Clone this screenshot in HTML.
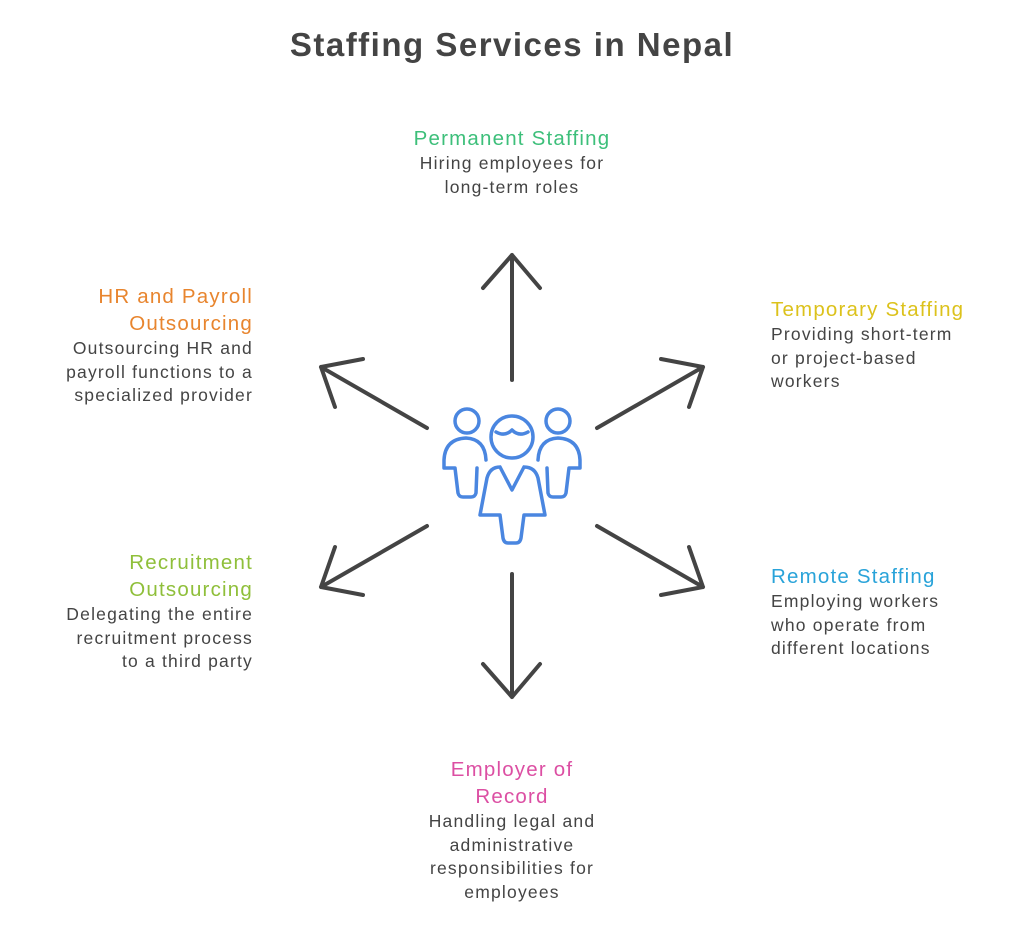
<!DOCTYPE html>
<html><head><meta charset="utf-8"><style>
body{margin:0;width:1024px;height:935px;background:#fff;font-family:"Liberation Sans",Arial,sans-serif;position:relative;overflow:hidden}
.t{position:absolute;top:26px;left:0;width:1024px;text-align:center;font-size:33px;font-weight:bold;color:#444;letter-spacing:1.5px}
.b{position:absolute;color:#444;font-size:17.5px;line-height:23.5px;letter-spacing:1.2px;white-space:nowrap}
.b h{display:block;font-size:20.5px;line-height:27px;letter-spacing:1.2px}
.r{text-align:right}.c{text-align:center}
</style></head><body>
<div class="t">Staffing Services in Nepal</div>
<svg width="1024" height="935" style="position:absolute;left:0;top:0">
<g stroke="#444" stroke-width="4" fill="none" stroke-linecap="round" stroke-linejoin="round">
<path d="M512 380V255M483 288L512 255L540 288"/>
<path d="M512 574V697M483 664L512 697L540 664"/>
<path d="M427 428L321 367M363 359L321 367L335 407"/>
<path d="M597 428L703 367M661 359L703 367L689 407"/>
<path d="M427 526L321 587M335 547L321 587L363 595"/>
<path d="M597 526L703 587M689 547L703 587L661 595"/>
</g>
<g stroke="#4a86e0" stroke-width="3.5" fill="none" stroke-linejoin="round" stroke-linecap="round">
<circle cx="467" cy="421" r="12"/>
<circle cx="558" cy="421" r="12"/>
<circle cx="512" cy="437" r="21"/>
<path d="M496 432Q505 437 512 430Q519 437 528 432"/>
<path d="M486 460Q485 439 466 438Q445 439 444 460V468H455L458 493Q459 497 463 497H471Q475 497 476 493L477 468"/>
<path d="M538 460Q539 439 558 438Q579 439 580 460V468H569L566 493Q565 497 561 497H553Q549 497 548 493L547 468"/>
<path d="M500 467L512 490L524 467M500 467Q490 467 487 478L480 515H500L503 538Q504 543 508 543H516Q520 543 521 538L524 515H545L538 478Q535 467 524 467"/>
</g>
</svg>
<div class="b c" style="left:362px;width:300px;top:125px"><h style="color:#3dbf7a">Permanent Staffing</h>Hiring employees for<br>long-term roles</div>
<div class="b r" style="left:0px;width:253px;top:283px"><h style="color:#e8852e">HR and Payroll<br>Outsourcing</h>Outsourcing HR and<br>payroll functions to a<br>specialized provider</div>
<div class="b" style="left:771px;width:250px;top:296px"><h style="color:#dcc21c">Temporary Staffing</h>Providing short-term<br>or project-based<br>workers</div>
<div class="b r" style="left:0px;width:253px;top:549px"><h style="color:#8fbf3a">Recruitment<br>Outsourcing</h>Delegating the entire<br>recruitment process<br>to a third party</div>
<div class="b" style="left:771px;width:250px;top:563px"><h style="color:#29a3d9">Remote Staffing</h>Employing workers<br>who operate from<br>different locations</div>
<div class="b c" style="left:362px;width:300px;top:756px"><h style="color:#dc4fa3">Employer of<br>Record</h>Handling legal and<br>administrative<br>responsibilities for<br>employees</div>
</body></html>
